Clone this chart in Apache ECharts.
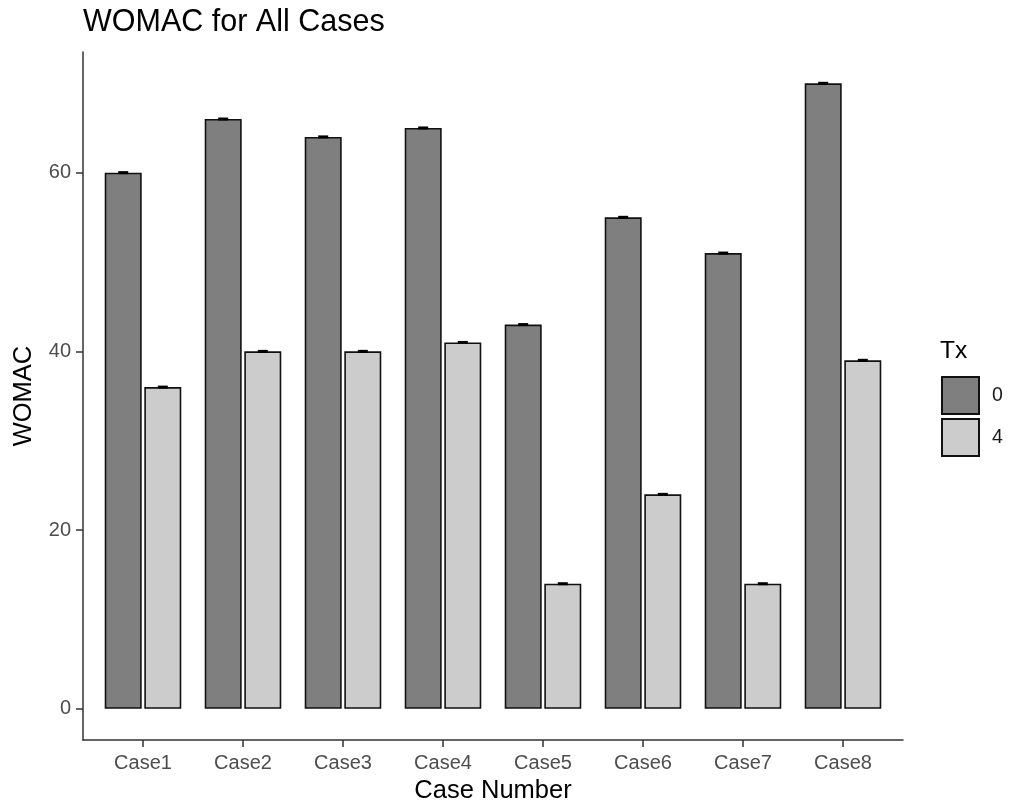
<!DOCTYPE html>
<html>
<head>
<meta charset="utf-8">
<script src="https://cdn.jsdelivr.net/npm/echarts@6/dist/echarts.min.js"></script>
<style>
html,body{margin:0;padding:0;background:#fff;}
#chart{width:1012px;height:809px;}
</style>
</head>
<body>
<div id="chart"></div>
<script>
const categories = ['Case1','Case2','Case3','Case4','Case5','Case6','Case7','Case8'];
const txLevels = ['0','4'];
const tx0 = [60, 66, 64, 65, 43, 55, 51, 70];
const tx4 = [36, 40, 40, 41, 14, 24, 14, 39];
const yTicks = [0, 20, 40, 60];

const FONT = 'Liberation Sans, Arial, sans-serif';
const xPos = categories.map((c, i) => i + 1);
const DODGE = 0.198;   // half distance between dodged bar centres (category units)
const EB_HALF = 0.05;  // half width of error bar (category units)

const errData = [];
tx0.forEach((v, i) => errData.push([xPos[i], v, -1]));
tx4.forEach((v, i) => errData.push([xPos[i], v, 1]));

const chart = echarts.init(document.getElementById('chart'), null, {renderer: 'canvas'});
chart.setOption({
  animation: false,
  backgroundColor: '#ffffff',
  title: [
    {text: 'WOMAC for All Cases', left: 83, top: 7, padding: 0,
     textStyle: {fontFamily: FONT, fontSize: 30.5, fontWeight: 'normal', color: '#000'}},
    {text: 'Tx', left: 940, top: 339, padding: 0,
     textStyle: {fontFamily: FONT, fontSize: 24.5, fontWeight: 'normal', color: '#000'}}
  ],
  legend: {
    orient: 'vertical', left: 941, top: 376, padding: 0,
    itemWidth: 37, itemHeight: 37, itemGap: 3, icon: 'rect',
    data: ['0', '4'],
    textStyle: {fontFamily: FONT, fontSize: 19.5, color: '#1a1a1a', padding: [0, 0, 0, 8]}
  },
  grid: {left: 83, right: 109, top: 52, bottom: 66.5, containLabel: false},
  xAxis: {
    type: 'value', min: 0.4, max: 8.6,
    name: 'Case Number', nameLocation: 'middle', nameGap: 37,
    nameTextStyle: {fontFamily: FONT, fontSize: 25.5, color: '#000'},
    axisLine: {onZero: false, lineStyle: {color: '#333', width: 1.5}},
    axisTick: {show: true, length: 7, customValues: xPos, lineStyle: {color: '#333', width: 1.5}},
    axisLabel: {customValues: xPos, margin: 13, fontFamily: FONT, fontSize: 20, color: '#4d4d4d',
      formatter: v => categories[Math.round(v) - 1] || ''},
    splitLine: {show: false}
  },
  yAxis: {
    type: 'value', min: -3.5, max: 73.5,
    name: 'WOMAC', nameLocation: 'middle', nameGap: 46, nameRotate: 90,
    nameTextStyle: {fontFamily: FONT, fontSize: 25.5, color: '#000'},
    axisLine: {show: true, onZero: false, lineStyle: {color: '#333', width: 1.5}},
    axisTick: {show: true, length: 7, customValues: yTicks, lineStyle: {color: '#333', width: 1.5}},
    axisLabel: {customValues: yTicks, margin: 12, fontFamily: FONT, fontSize: 20, color: '#4d4d4d'},
    splitLine: {show: false}
  },
  series: [
    {name: txLevels[0], type: 'bar', barWidth: 37, barGap: '7%',
     data: tx0.map((v, i) => [xPos[i], v]),
     itemStyle: {color: '#7f7f7f', borderColor: '#111', borderWidth: 1.6}},
    {name: txLevels[1], type: 'bar', barWidth: 37, barGap: '7%',
     data: tx4.map((v, i) => [xPos[i], v]),
     itemStyle: {color: '#cccccc', borderColor: '#111', borderWidth: 1.6}},
    {name: 'err', type: 'custom', z: 5,
     data: errData,
     renderItem: function (params, api) {
       const x = api.value(0), y = api.value(1), side = api.value(2);
       const c = x + side * DODGE;
       const p1 = api.coord([c - EB_HALF, y]);
       const p2 = api.coord([c + EB_HALF, y]);
       return {type: 'line', shape: {x1: p1[0], y1: p1[1], x2: p2[0], y2: p2[1]},
               style: {stroke: '#000', lineWidth: 3}};
     }}
  ]
});
</script>
</body>
</html>
